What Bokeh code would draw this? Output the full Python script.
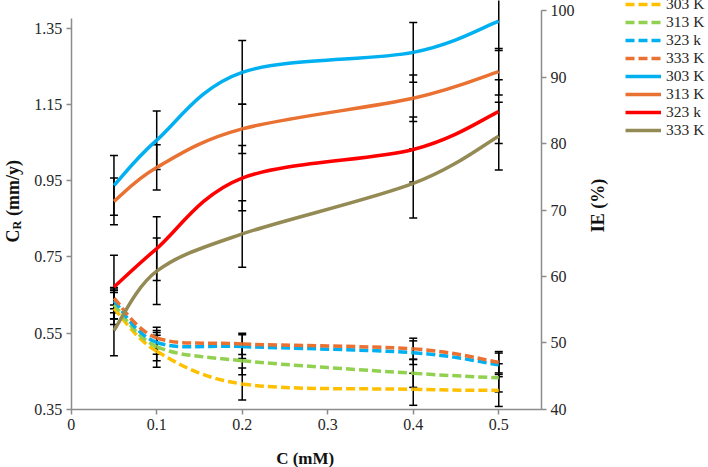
import math
from bokeh.plotting import figure
from bokeh.models import (Range1d, LinearAxis, FixedTicker, ColumnDataSource, Whisker,
                          TeeHead, Legend, LegendItem, Label)
from bokeh.embed import file_html
from bokeh.resources import INLINE

# ---------------- data ----------------
conc = [0.05, 0.1, 0.2, 0.4, 0.5]
x_ticks = [0, 0.1, 0.2, 0.3, 0.4, 0.5]
x_tick_labels = ["0", "0.1", "0.2", "0.3", "0.4", "0.5"]
cr_ticks = [0.35, 0.55, 0.75, 0.95, 1.15, 1.35]
ie_ticks = [40, 50, 60, 70, 80, 90, 100]

# corrosion rate (mm/y), left axis, dashed
cr_303 = [0.615, 0.503, 0.417, 0.403, 0.400]
cr_313 = [0.625, 0.515, 0.478, 0.445, 0.433]
cr_323 = [0.635, 0.526, 0.515, 0.499, 0.467]
cr_333 = [0.642, 0.538, 0.522, 0.509, 0.474]
cr_303_err = [0.042, 0.042, 0.042, 0.042, 0.042]
cr_313_err = [0.037, 0.037, 0.037, 0.037, 0.037]
cr_323_err = [0.031, 0.031, 0.031, 0.031, 0.031]
cr_333_err = [0.028, 0.028, 0.028, 0.028, 0.028]

# inhibition efficiency (%), right axis, solid
ie_303 = [73.7, 80.5, 90.7, 93.7, 98.4]
ie_313 = [71.3, 76.4, 82.2, 86.8, 90.8]
ie_323 = [58.4, 64.2, 74.8, 79.1, 84.8]
ie_333 = [51.9, 60.8, 66.4, 74.0, 81.1]
ie_303_err = [4.5, 4.4, 4.8, 4.5, 4.4]
ie_313_err = [3.5, 3.4, 3.7, 3.5, 3.5]
ie_323_err = [4.8, 4.8, 4.9, 4.9, 4.8]
ie_333_err = [3.8, 5.0, 5.0, 5.2, 5.1]

labels = ["303 K", "313 K", "323 k", "333 K"]

dashed_series = [(cr_303, cr_303_err, "#FFC000"), (cr_313, cr_313_err, "#92D050"),
                 (cr_323, cr_323_err, "#00B0F0"), (cr_333, cr_333_err, "#E97132")]
solid_series = [(ie_303, ie_303_err, "#00B0F0"), (ie_313, ie_313_err, "#E97132"),
                (ie_323, ie_323_err, "#FF0000"), (ie_333, ie_333_err, "#948A54")]

FONT = "Liberation Serif"
TXT = "#262626"
W, H = 708, 467


def bezier_cols(xs, ys):
    n = len(xs)
    d = dict(x0=[], y0=[], x1=[], y1=[], cx0=[], cy0=[], cx1=[], cy1=[])
    for i in range(n - 1):
        a = max(i - 1, 0)
        b = min(i + 2, n - 1)
        d["x0"].append(xs[i]); d["y0"].append(ys[i])
        d["x1"].append(xs[i + 1]); d["y1"].append(ys[i + 1])
        d["cx0"].append(xs[i] + (xs[i + 1] - xs[a]) / 6)
        d["cy0"].append(ys[i] + (ys[i + 1] - ys[a]) / 6)
        d["cx1"].append(xs[i + 1] - (xs[b] - xs[i]) / 6)
        d["cy1"].append(ys[i + 1] - (ys[b] - ys[i]) / 6)
    return d


p = figure(width=W, height=H, min_border=0,
           x_range=Range1d(-0.08268, 0.74529), y_range=Range1d(0.19789, 1.42265),
           output_backend="svg", toolbar_location=None)
p.extra_y_ranges = {"ie": Range1d(31.278, 101.504)}
right_axis = LinearAxis(y_range_name="ie", fixed_location=0.55, bounds=(40, 100))
p.add_layout(right_axis, "right")

p.xgrid.visible = False
p.ygrid.visible = False
p.outline_line_color = None

p.xaxis[0].fixed_location = 0.35
p.xaxis[0].bounds = (0, 0.55)
p.yaxis[0].fixed_location = 0
p.yaxis[0].bounds = (0.35, 1.3754)

p.xaxis.ticker = FixedTicker(ticks=x_ticks)
p.xaxis.major_label_overrides = {t: l for t, l in zip(x_ticks, x_tick_labels)}
p.yaxis[0].ticker = FixedTicker(ticks=cr_ticks)
right_axis.ticker = FixedTicker(ticks=ie_ticks)

for ax in p.axis:
    ax.axis_line_color = "#8c8c8c"
    ax.axis_line_width = 1.5
    ax.major_tick_line_color = "#8c8c8c"
    ax.major_tick_line_width = 1.5
    ax.major_tick_in = 0
    ax.major_tick_out = 5
    ax.minor_tick_line_color = None
    ax.major_label_text_font = FONT
    ax.major_label_text_font_size = "16px"
    ax.major_label_text_color = TXT
    ax.major_label_standoff = 4

legend_items = []
for (vals, err, col), lab in zip(dashed_series, labels):
    r = p.bezier(x0="x0", y0="y0", x1="x1", y1="y1", cx0="cx0", cy0="cy0", cx1="cx1", cy1="cy1",
                 source=ColumnDataSource(bezier_cols(conc, vals)),
                 line_color=col, line_width=3.5, line_dash="9 4")
    legend_items.append(LegendItem(label=lab, renderers=[r], index=0))

for (vals, err, col), lab in zip(solid_series, labels):
    r = p.bezier(x0="x0", y0="y0", x1="x1", y1="y1", cx0="cx0", cy0="cy0", cx1="cx1", cy1="cy1",
                 source=ColumnDataSource(bezier_cols(conc, vals)),
                 line_color=col, line_width=3.5, y_range_name="ie")
    legend_items.append(LegendItem(label=lab, renderers=[r], index=0))


def add_whisker(vals, err, range_name=None):
    src = ColumnDataSource(dict(base=conc,
                                upper=[v + e for v, e in zip(vals, err)],
                                lower=[v - e for v, e in zip(vals, err)]))
    kw = dict(base="base", upper="upper", lower="lower", source=src, dimension="height",
              line_color="black", line_width=1.5,
              upper_head=TeeHead(size=8, line_color="black", line_width=1.5),
              lower_head=TeeHead(size=8, line_color="black", line_width=1.5))
    if range_name:
        kw["y_range_name"] = range_name
    p.add_layout(Whisker(**kw))


for vals, err, col in dashed_series:
    add_whisker(vals, err)
for vals, err, col in solid_series:
    add_whisker(vals, err, "ie")

legend = Legend(items=legend_items, location=(625, 328), glyph_width=36, glyph_height=14,
                label_height=14, spacing=0, padding=0, margin=0, label_standoff=5,
                border_line_color=None, background_fill_alpha=0,
                label_text_font=FONT, label_text_font_size="15.5px", label_text_color=TXT,
                label_text_line_height=1.0)
p.add_layout(legend)


# axis titles (screen units from the bottom-left of the canvas-sized frame)
def title(text, x, y, size, angle=0.0, align="center"):
    p.add_layout(Label(x=x, y=y, x_units="screen", y_units="screen", text=text, angle=angle,
                       text_font=FONT, text_font_size=size, text_font_style="bold",
                       text_align=align, text_baseline="middle", text_color="#111111"))


title("C", 12, H - 242, "18px", math.pi / 2, "left")
title("R", 16.5, H - 229, "12px", math.pi / 2, "left")
title("(mm/y)", 12, H - 215.5, "18px", math.pi / 2, "left")
title("IE (%)", 597.7, H - 205, "18px", math.pi / 2, "center")
title("C (mM)", 304.7, H - 458.3, "17px", 0.0, "center")

open("out.html", "w").write(file_html(p, INLINE))
